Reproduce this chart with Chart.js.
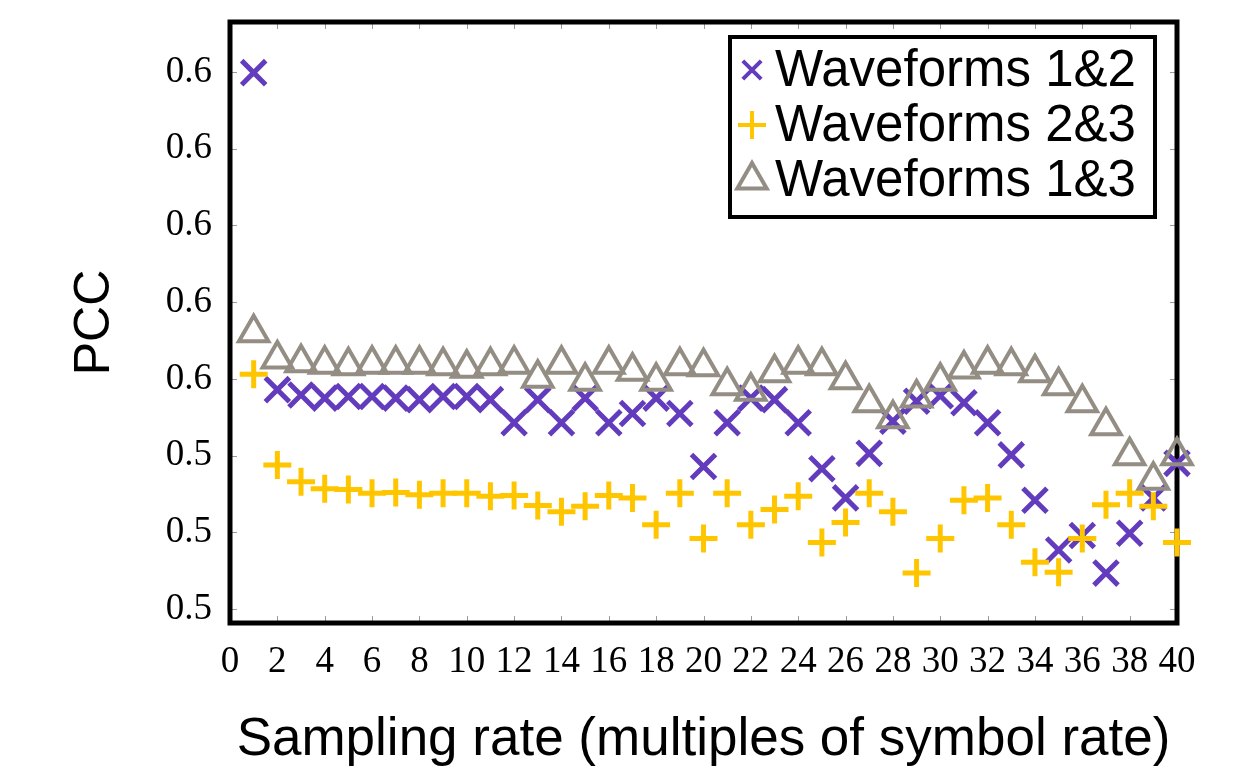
<!DOCTYPE html>
<html>
<head>
<meta charset="utf-8">
<script src="https://cdn.jsdelivr.net/npm/chart.js@4.4.1/dist/chart.umd.min.js"></script>
<style>
  html, body { margin: 0; padding: 0; background: #fff; }
  #pccChart { display: block; }
</style>
</head>
<body>
<canvas id="pccChart" width="1254" height="769"></canvas>
<script>
// sampling rate (multiples of symbol rate)
const samplingRates = [1, 2, 3, 4, 5, 6, 7, 8, 9, 10, 11, 12, 13, 14, 15, 16, 17, 18, 19, 20,
                       21, 22, 23, 24, 25, 26, 27, 28, 29, 30, 31, 32, 33, 34, 35, 36, 37, 38, 39, 40];

const pccWave12 = [0.5899, 0.5486, 0.5479, 0.5475, 0.5477, 0.5477, 0.5475, 0.5473, 0.5477, 0.5477,
                   0.5473, 0.5443, 0.5473, 0.5443, 0.5475, 0.5443, 0.5455, 0.5475, 0.5455, 0.5386,
                   0.5443, 0.5475, 0.5473, 0.5443, 0.5383, 0.5345, 0.5403, 0.5445, 0.5471, 0.5478,
                   0.5469, 0.5443, 0.5401, 0.5342, 0.5277, 0.5296, 0.5247, 0.5299, 0.5345, 0.5390];

const pccWave23 = [0.5506, 0.5388, 0.5366, 0.5357, 0.5356, 0.5351, 0.5352, 0.5349, 0.5351, 0.5351,
                   0.5347, 0.5348, 0.5335, 0.5327, 0.5334, 0.5348, 0.5345, 0.5310, 0.5351, 0.5292,
                   0.5351, 0.5310, 0.5330, 0.5347, 0.5287, 0.5313, 0.5351, 0.5327, 0.5247, 0.5292,
                   0.5342, 0.5345, 0.5310, 0.5261, 0.5248, 0.5292, 0.5336, 0.5351, 0.5334, 0.5287];

const pccWave13 = [0.5560, 0.5526, 0.5521, 0.5519, 0.5517, 0.5519, 0.5519, 0.5519, 0.5517, 0.5514,
                   0.5517, 0.5519, 0.5501, 0.5519, 0.5497, 0.5519, 0.5510, 0.5497, 0.5517, 0.5516,
                   0.5491, 0.5484, 0.5508, 0.5519, 0.5517, 0.5499, 0.5469, 0.5448, 0.5475, 0.5497,
                   0.5513, 0.5519, 0.5517, 0.5508, 0.5491, 0.5469, 0.5439, 0.5400, 0.5368, 0.5400];

const seriesLabels = ['Waveforms 1&2', 'Waveforms 2&3', 'Waveforms 1&3'];

const yTickValues = [0.52, 0.53, 0.54, 0.55, 0.56, 0.57, 0.58, 0.59];
const yTickLabels = ['0.5', '0.5', '0.5', '0.6', '0.6', '0.6', '0.6', '0.6'];

const purple = '#623cbd';
const yellow = '#ffc600';
const grey = '#938d83';

function toPoints(ys) {
  return samplingRates.map((x, i) => ({ x: x, y: ys[i] }));
}

// black frame + small inner tick marks on all four sides
const frameTicks = {
  id: 'frameTicks',
  beforeDatasetsDraw(chart) {
    const { ctx, chartArea: a, scales } = chart;
    ctx.save();
    ctx.strokeStyle = '#9a9a9a';
    ctx.lineWidth = 1;
    const len = 7;
    scales.x.ticks.forEach(t => {
      const px = Math.round(scales.x.getPixelForValue(t.value)) + 0.5;
      ctx.beginPath();
      ctx.moveTo(px, a.bottom); ctx.lineTo(px, a.bottom - len);
      ctx.moveTo(px, a.top); ctx.lineTo(px, a.top + len);
      ctx.stroke();
    });
    scales.y.ticks.forEach(t => {
      const py = Math.round(scales.y.getPixelForValue(t.value)) + 0.5;
      ctx.beginPath();
      ctx.moveTo(a.left, py); ctx.lineTo(a.left + len, py);
      ctx.moveTo(a.right, py); ctx.lineTo(a.right - len, py);
      ctx.stroke();
    });
    ctx.strokeStyle = '#000';
    ctx.lineWidth = 5;
    ctx.strokeRect(a.left, a.top, a.right - a.left, a.bottom - a.top);
    ctx.restore();
  }
};

// legend box in the upper right corner of the plot
const boxLegend = {
  id: 'boxLegend',
  afterDraw(chart) {
    const { ctx, chartArea: a } = chart;
    const right = a.right - 22, top = a.top + 15;
    const w = 425, h = 180;
    const left = right - w;
    ctx.save();
    ctx.fillStyle = '#fff';
    ctx.fillRect(left, top, w, h);
    ctx.lineWidth = 4;
    ctx.strokeStyle = '#000';
    ctx.strokeRect(left, top, w, h);

    ctx.font = '51px "Liberation Sans", Arial, sans-serif';
    ctx.textBaseline = 'middle';
    ctx.textAlign = 'left';
    chart.data.datasets.forEach((ds, i) => {
      const cy = top + 33 + i * 55;
      const cx = left + 22;
      const st = ds.legendMarker;
      ctx.strokeStyle = ds.borderColor;
      ctx.fillStyle = '#fff';
      Chart.helpers.drawPoint(ctx, {
        pointStyle: ds.pointStyle,
        radius: st.radius,
        rotation: 0,
        borderWidth: st.borderWidth
      }, cx, cy);
      ctx.fillStyle = '#000';
      ctx.fillText(ds.label, left + 45, cy + 2);
    });
    ctx.restore();
  }
};

const ctx = document.getElementById('pccChart').getContext('2d');

new Chart(ctx, {
  type: 'scatter',
  data: {
    datasets: [
      {
        label: seriesLabels[0],
        data: toPoints(pccWave12),
        pointStyle: 'crossRot',
        pointRadius: 17,
        pointBorderWidth: 5,
        borderColor: purple,
        backgroundColor: purple,
        legendMarker: { radius: 13, borderWidth: 4 },
        order: 3,
        clip: false
      },
      {
        label: seriesLabels[1],
        data: toPoints(pccWave23),
        pointStyle: 'cross',
        pointRadius: 14,
        pointBorderWidth: 5,
        borderColor: yellow,
        backgroundColor: yellow,
        legendMarker: { radius: 14, borderWidth: 5 },
        order: 2,
        clip: false
      },
      {
        label: seriesLabels[2],
        data: toPoints(pccWave13),
        pointStyle: 'triangle',
        pointRadius: 17,
        pointBorderWidth: 4,
        borderColor: grey,
        backgroundColor: 'rgba(255,255,255,0)',
        legendMarker: { radius: 17, borderWidth: 4 },
        order: 1,
        clip: false
      }
    ]
  },
  options: {
    responsive: false,
    animation: false,
    maintainAspectRatio: false,
    layout: { padding: { top: 20, right: 77, left: 0, bottom: 0 } },
    plugins: {
      legend: { display: false },
      tooltip: { enabled: false }
    },
    scales: {
      x: {
        type: 'linear',
        min: 0,
        max: 40,
        grid: { display: false, drawTicks: false },
        border: { display: false },
        ticks: {
          stepSize: 2,
          padding: 17,
          color: '#000',
          font: { family: '"Liberation Serif", "Times New Roman", serif', size: 37 }
        },
        title: {
          display: true,
          text: 'Sampling rate (multiples of symbol rate)',
          color: '#000',
          font: { family: '"Liberation Sans", Arial, sans-serif', size: 53, lineHeight: 1 },
          padding: { top: 0, bottom: 2 }
        },
        afterFit: function (scale) {
          scale.height = 146;
          scale.paddingLeft = 0;
          scale.paddingRight = 0;
        }
      },
      y: {
        type: 'linear',
        min: 0.5182,
        max: 0.5965,
        grid: { display: false, drawTicks: false },
        border: { display: false },
        afterBuildTicks: function (scale) {
          scale.ticks = yTickValues.map(v => ({ value: v }));
        },
        ticks: {
          padding: 18,
          color: '#000',
          font: { family: '"Liberation Serif", "Times New Roman", serif', size: 37 },
          callback: function (value, index) { return yTickLabels[index]; }
        },
        title: {
          display: true,
          text: 'PCC',
          color: '#000',
          font: { family: '"Liberation Sans", Arial, sans-serif', size: 50, lineHeight: 1 },
          padding: { top: 70, bottom: 0 }
        },
        afterFit: function (scale) {
          scale.width = 230;
          scale.paddingTop = 0;
          scale.paddingBottom = 0;
        }
      }
    }
  },
  plugins: [frameTicks, boxLegend]
});
</script>
</body>
</html>
